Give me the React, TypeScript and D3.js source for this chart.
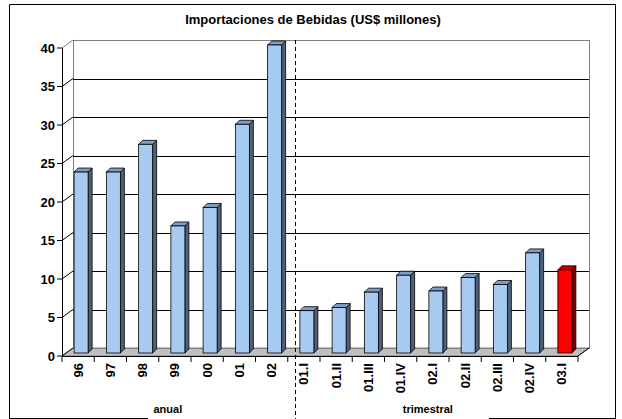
import { useEffect, useRef } from 'react'
import * as d3 from 'd3'

const categories = ['96', '97', '98', '99', '00', '01', '02', '01.I', '01.II', '01.III', '01.IV', '02.I', '02.II', '02.III', '02.IV', '03.I']
const values = [23.5, 23.5, 27.1, 16.5, 18.9, 29.7, 40.0, 5.5, 5.9, 7.9, 10.1, 8.05, 9.8, 8.9, 13.0, 10.8]
const yTicks = [0, 5, 10, 15, 20, 25, 30, 35, 40]
const groups = [
  { label: 'anual', from: '96', to: '02' },
  { label: 'trimestral', from: '01.I', to: '03.I' }
]
const highlight = '03.I'

export default function App() {
  const svgRef = useRef<SVGSVGElement | null>(null)

  useEffect(() => {
    if (!svgRef.current) return
    document.body.style.margin = '0'

    const svg = d3.select(svgRef.current)
    svg.selectAll('*').remove()
    const width = 622
    const height = 419
    svg.attr('width', width).attr('height', height)

    const font = '"Liberation Sans", Arial, sans-serif'
    // 3d depth of the plot walls
    const dx = 11
    const dy = 8

    const x = d3.scaleBand<string>().domain(categories).range([62, 578]).padding(0)
    const y = d3.scaleLinear().domain([0, 40]).range([356, 48])

    // outer frame (bottom edge broken)
    const frame = svg.append('g').attr('stroke', '#000').attr('stroke-width', 1).attr('fill', 'none')
    frame.append('path').attr('d', 'M9.5,418 L9.5,4.5 L615.5,4.5 L615.5,418')
    frame.append('line').attr('x1', 9).attr('x2', 148).attr('y1', 418.5).attr('y2', 418.5)
    frame.append('line').attr('x1', 489).attr('x2', 616).attr('y1', 418.5).attr('y2', 418.5)

    svg.append('text')
      .attr('x', 313).attr('y', 24)
      .attr('text-anchor', 'middle')
      .style('font-family', font).style('font-weight', 'bold').style('font-size', '13px')
      .text('Importaciones de Bebidas (US$ millones)')

    const x0 = x.range()[0]
    const x1 = x.range()[1]
    const yTop = y(40)
    const y0 = y(0)

    // floor
    svg.append('path')
      .attr('d', `M${x0},${y0} L${x1},${y0} L${x1 + dx},${y0 - dy} L${x0 + dx},${y0 - dy} Z`)
      .attr('fill', '#c0c0c0').attr('stroke', '#808080')

    // back wall
    svg.append('rect')
      .attr('x', x0 + dx + 0.5).attr('y', yTop - dy + 0.5)
      .attr('width', x1 - x0).attr('height', y0 - yTop)
      .attr('fill', 'none').attr('stroke', '#808080')

    // left wall edge
    svg.append('line')
      .attr('x1', x0).attr('y1', yTop).attr('x2', x0 + dx).attr('y2', yTop - dy)
      .attr('stroke', '#808080')

    // gridlines on back wall + diagonal ticks on side wall
    yTicks.filter(t => t > 0 && t < 40).forEach(t => {
      const yy = Math.round(y(t) - dy) + 0.5
      svg.append('line')
        .attr('x1', x0 + dx).attr('x2', x1 + dx)
        .attr('y1', yy).attr('y2', yy)
        .attr('stroke', '#000')
      svg.append('line')
        .attr('x1', x0).attr('y1', y(t)).attr('x2', x0 + dx).attr('y2', y(t) - dy)
        .attr('stroke', '#000')
    })
    svg.append('line')
      .attr('x1', x0).attr('y1', y0).attr('x2', x0 + dx).attr('y2', y0 - dy)
      .attr('stroke', '#000')

    // y axis
    const yAxis = svg.append('g')
    yAxis.append('line')
      .attr('x1', x0 + 0.5).attr('x2', x0 + 0.5).attr('y1', yTop).attr('y2', y0)
      .attr('stroke', '#000')
    yTicks.forEach(t => {
      yAxis.append('line')
        .attr('x1', x0 - 5).attr('x2', x0).attr('y1', y(t)).attr('y2', y(t))
        .attr('stroke', '#000')
      yAxis.append('text')
        .attr('x', x0 - 7).attr('y', y(t) + 4.5)
        .attr('text-anchor', 'end')
        .style('font-family', font).style('font-weight', 'bold').style('font-size', '13px')
        .text(t)
    })

    // bars (3d)
    const bw = 14
    const ox = 3
    const oy = 3
    const bdx = 4
    const bdy = 4
    const bars = svg.append('g')
    categories.forEach((c, i) => {
      const v = values[i]
      const red = c === highlight
      const fx = x(c)! + x.bandwidth() / 2 - bw / 2 + ox
      const fy = y(v) - oy
      const by = y(0) - oy
      const front = red ? '#ff0000' : '#a6caf0'
      const side = red ? '#800000' : '#4f6078'
      const top = red ? '#c00000' : '#7f9cc4'
      bars.append('path')
        .attr('d', `M${fx + bw},${fy} L${fx + bw + bdx},${fy - bdy} L${fx + bw + bdx},${by - bdy} L${fx + bw},${by} Z`)
        .attr('fill', side).attr('stroke', '#000').attr('stroke-width', 0.8)
      bars.append('path')
        .attr('d', `M${fx},${fy} L${fx + bdx},${fy - bdy} L${fx + bw + bdx},${fy - bdy} L${fx + bw},${fy} Z`)
        .attr('fill', top).attr('stroke', '#000').attr('stroke-width', 0.8)
      bars.append('rect')
        .attr('x', fx).attr('y', fy).attr('width', bw).attr('height', by - fy)
        .attr('fill', front).attr('stroke', '#000').attr('stroke-width', 0.8)
    })

    // x axis
    const xAxis = svg.append('g')
    xAxis.append('line')
      .attr('x1', x0).attr('x2', x1).attr('y1', y0 + 0.5).attr('y2', y0 + 0.5)
      .attr('stroke', '#000')
    xAxis.append('line')
      .attr('x1', x1).attr('y1', y0).attr('x2', x1 + dx).attr('y2', y0 - dy)
      .attr('stroke', '#000')
    const bounds = categories.map(c => x(c)!).concat([x1])
    bounds.forEach(b => {
      xAxis.append('line')
        .attr('x1', b).attr('x2', b).attr('y1', y0).attr('y2', y0 + 6)
        .attr('stroke', '#000')
    })
    categories.forEach(c => {
      const cx = x(c)! + x.bandwidth() / 2
      xAxis.append('text')
        .attr('transform', `translate(${cx + 4.5},${y0 + 7}) rotate(-90)`)
        .attr('text-anchor', 'end')
        .style('font-family', font).style('font-weight', 'bold').style('font-size', '13px')
        .text(c)
    })

    // group labels (placed under their category ranges)
    groups.forEach(g => {
      const a = x(g.from)!
      const b = x(g.to)! + x.bandwidth()
      const shift = g.label === 'anual' ? -7 : -5
      svg.append('text')
        .attr('x', (a + b) / 2 + shift).attr('y', 413)
        .attr('text-anchor', 'middle')
        .style('font-family', font).style('font-weight', 'bold').style('font-size', '11px')
        .text(g.label)
    })

    // dashed separator
    svg.append('line')
      .attr('x1', 295.5).attr('x2', 295.5).attr('y1', yTop - dy).attr('y2', height)
      .attr('stroke', '#000').attr('stroke-dasharray', '4,3')
  }, [])

  return <svg ref={svgRef} style={{ display: 'block' }}></svg>
}
